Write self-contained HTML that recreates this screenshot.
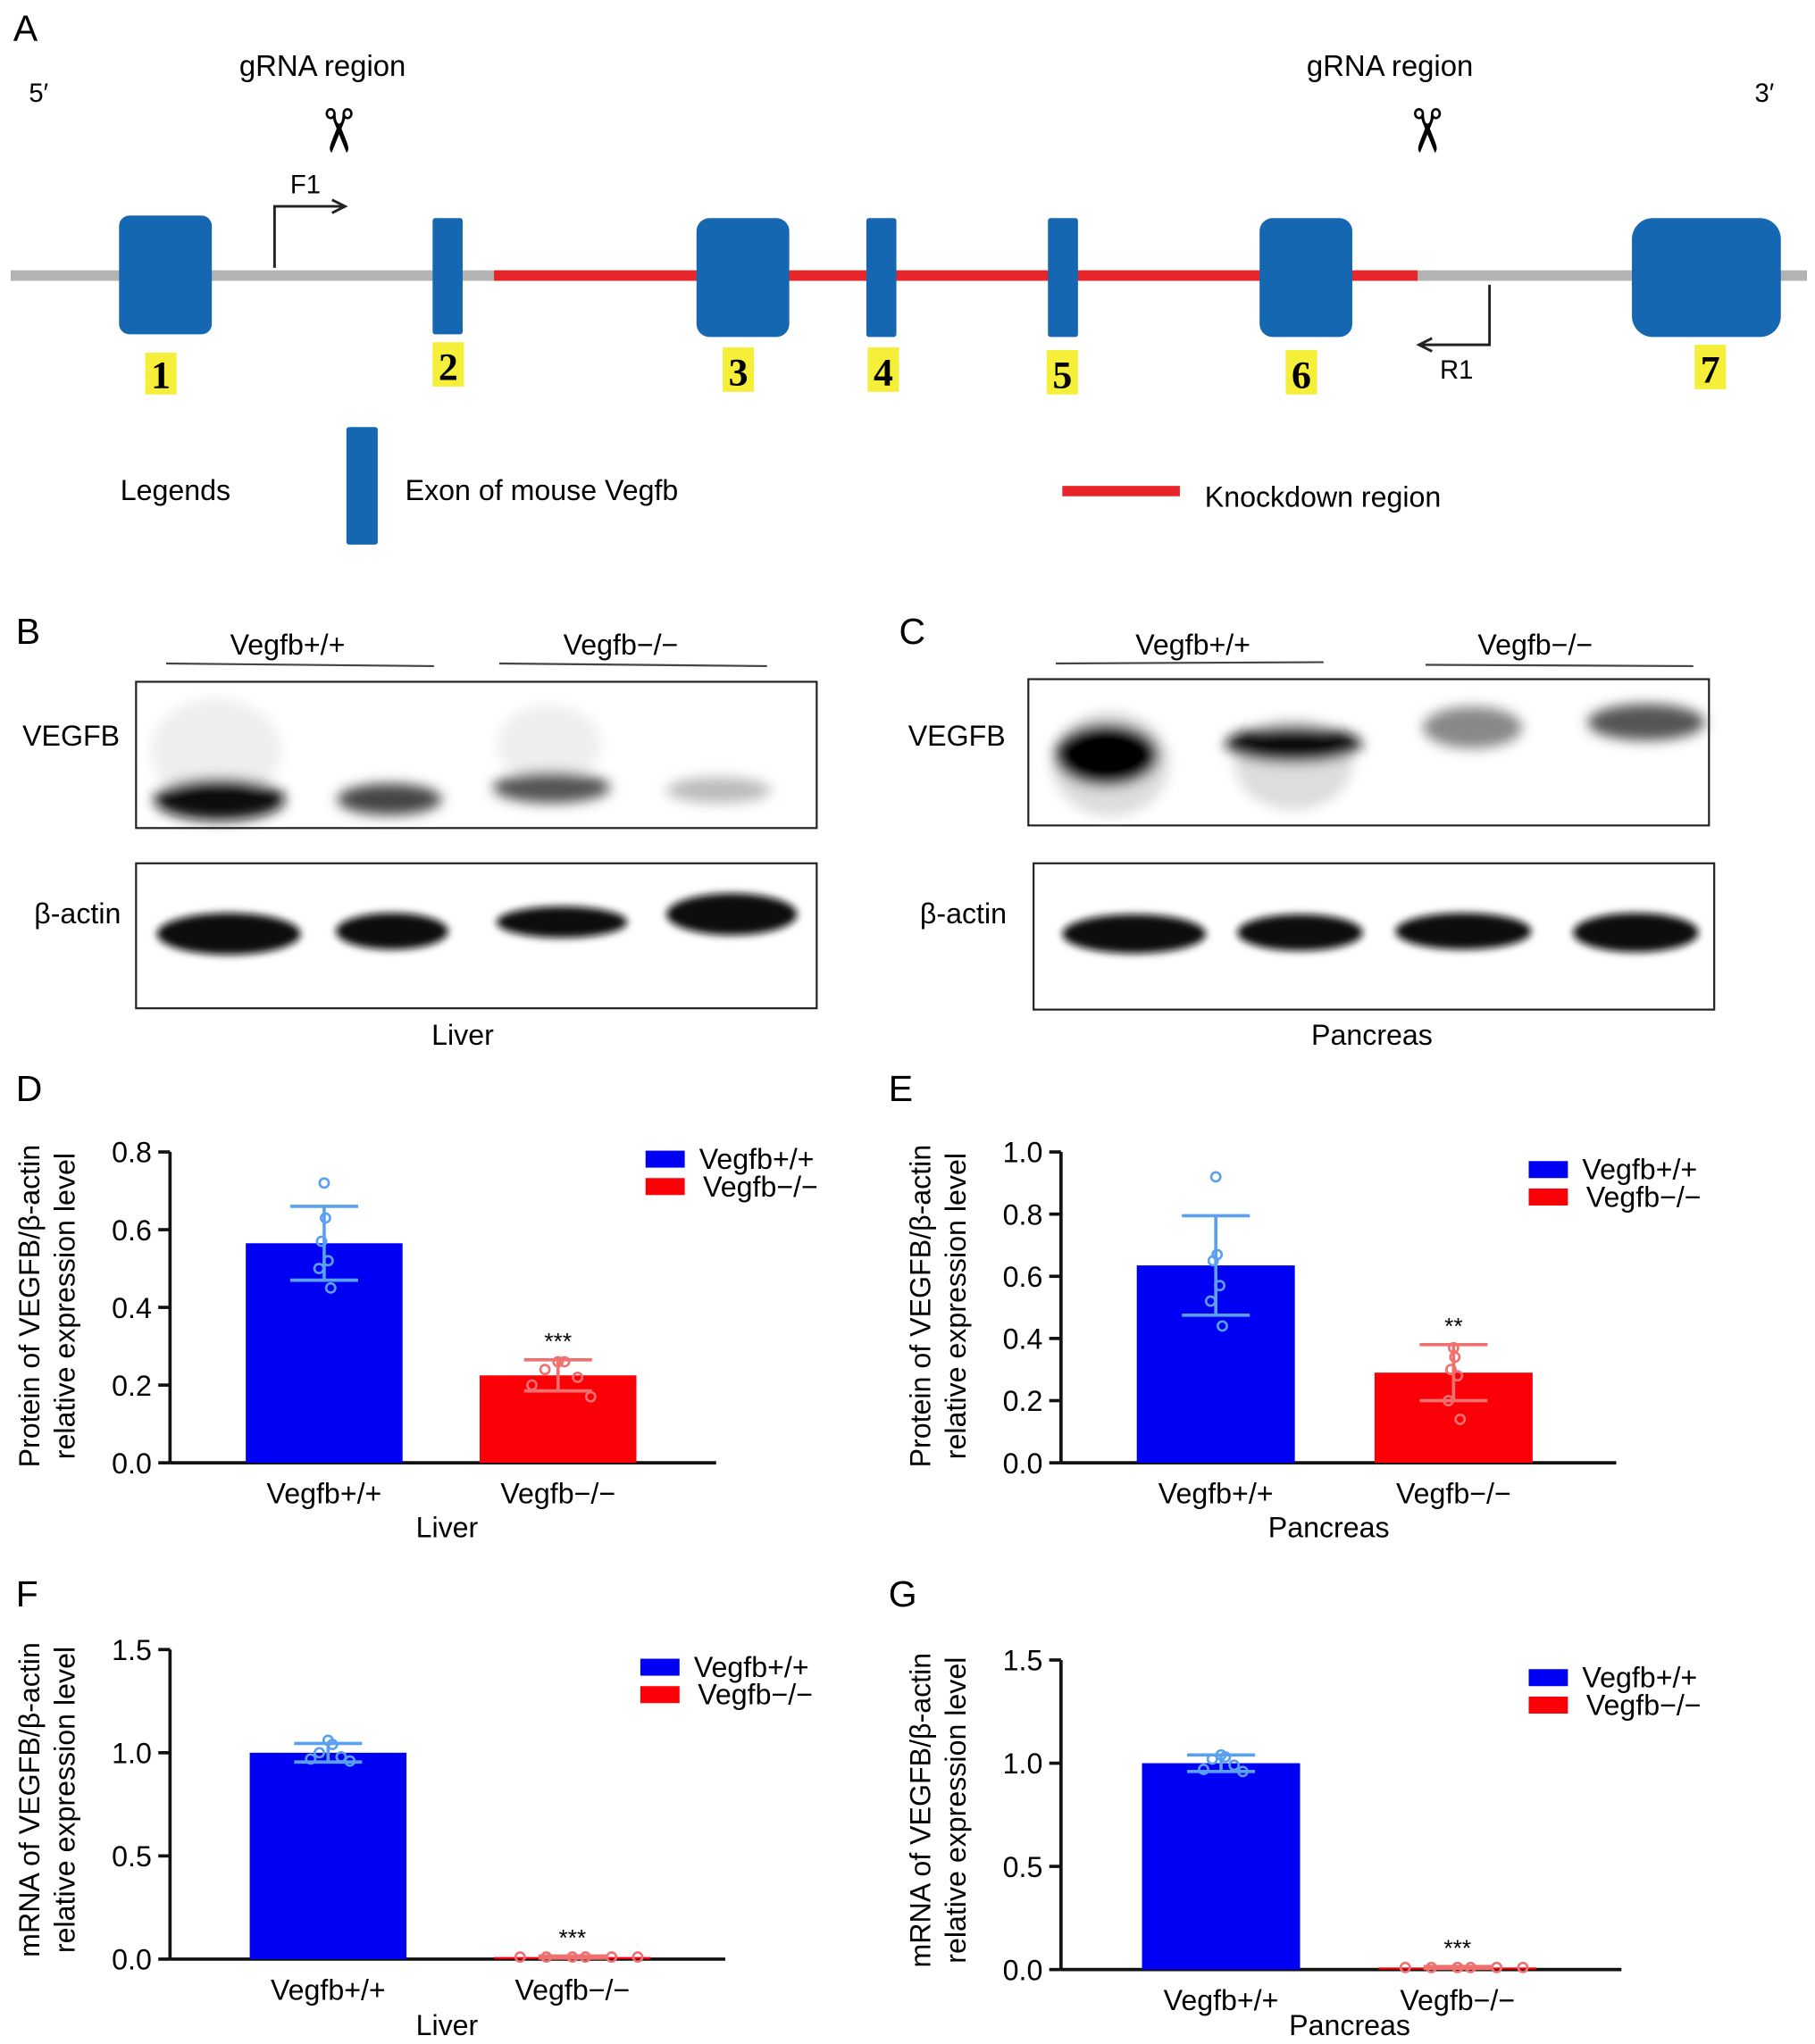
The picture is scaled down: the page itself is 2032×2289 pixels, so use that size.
<!DOCTYPE html>
<html><head><meta charset="utf-8">
<style>
html,body{margin:0;padding:0;background:#fff;}
svg{display:block;font-family:"Liberation Sans",Arial,sans-serif;}
</style></head>
<body>
<svg id="fig" width="2032" height="2289" viewBox="0 0 1389 1565" xmlns="http://www.w3.org/2000/svg">
<defs>
<filter id="blur" x="-50%" y="-50%" width="200%" height="200%"><feGaussianBlur stdDeviation="5"/></filter>
<filter id="blur2" x="-50%" y="-50%" width="200%" height="200%"><feGaussianBlur stdDeviation="3"/></filter>
</defs>
<!-- Panel A -->
<g>
<text x="10" y="31" font-size="28">A</text>
<text x="22" y="78" font-size="20">5′</text>
<text x="1343" y="78" font-size="20">3′</text>
<text x="183" y="58" font-size="22.5">gRNA region</text>
<text x="1000" y="58" font-size="22.5">gRNA region</text>
<text transform="translate(258,100) rotate(90)" font-size="46" text-anchor="middle" dominant-baseline="central">✂</text>
<text transform="translate(1091,100) rotate(90)" font-size="46" text-anchor="middle" dominant-baseline="central">✂</text>
<line x1="8" y1="211" x2="1383" y2="211" stroke="#b3b3b3" stroke-width="8"/>
<line x1="378" y1="211" x2="1085" y2="211" stroke="#e8262a" stroke-width="8"/>
<g fill="#1667b2">
<rect x="91" y="165" width="71" height="91" rx="8"/>
<rect x="331" y="167" width="23" height="89" rx="2"/>
<rect x="533" y="167" width="71" height="91" rx="10"/>
<rect x="663" y="167" width="23" height="91" rx="2"/>
<rect x="802" y="167" width="23" height="91" rx="2"/>
<rect x="964" y="167" width="71" height="91" rx="10"/>
<rect x="1249" y="167" width="114" height="91" rx="16"/>
</g>
<g font-family="Liberation Serif,serif" font-weight="bold" font-size="30" text-anchor="middle">
<rect x="111" y="270" width="24" height="32" fill="#f5ef3a"/><text x="123" y="297">1</text>
<rect x="331" y="262" width="24" height="34" fill="#f5ef3a"/><text x="343" y="291">2</text>
<rect x="553" y="266" width="24" height="34" fill="#f5ef3a"/><text x="565" y="295">3</text>
<rect x="664" y="266" width="24" height="34" fill="#f5ef3a"/><text x="676" y="295">4</text>
<rect x="801" y="268" width="24" height="34" fill="#f5ef3a"/><text x="813" y="297">5</text>
<rect x="984" y="268" width="24" height="34" fill="#f5ef3a"/><text x="996" y="297">6</text>
<rect x="1297" y="264" width="24" height="34" fill="#f5ef3a"/><text x="1309" y="293">7</text>
</g>
<path d="M210,205 V158 H262 M254,153 L264,158 L254,163" fill="none" stroke="#222" stroke-width="2"/>
<text x="222" y="148" font-size="20">F1</text>
<path d="M1140,218 V264 H1088 M1096,259 L1086,264 L1096,269" fill="none" stroke="#222" stroke-width="2"/>
<text x="1102" y="290" font-size="20">R1</text>
<text x="92" y="383" font-size="22">Legends</text>
<rect x="265" y="327" width="24" height="90" rx="2" fill="#1667b2"/>
<text x="310" y="383" font-size="22">Exon of mouse Vegfb</text>
<line x1="813" y1="376" x2="903" y2="376" stroke="#e8262a" stroke-width="8"/>
<text x="922" y="388" font-size="22">Knockdown region</text>
</g>
<!-- Panel B -->
<g>
<text x="12" y="493" font-size="28">B</text>
<text x="220" y="501" font-size="22" text-anchor="middle">Vegfb+/+</text>
<line x1="127" y1="508" x2="332" y2="510" stroke="#444" stroke-width="1.5"/>
<text x="475" y="501" font-size="22" text-anchor="middle">Vegfb−/−</text>
<line x1="382" y1="508" x2="587" y2="510" stroke="#444" stroke-width="1.5"/>
<text x="17" y="571" font-size="22">VEGFB</text>
<text x="26" y="707" font-size="22">β-actin</text>
<rect x="104" y="522" width="521" height="112" fill="#fff" stroke="#222" stroke-width="1.5"/>
<g filter="url(#blur)">
<ellipse cx="165" cy="575" rx="50" ry="40" fill="#eee"/>
<ellipse cx="420" cy="570" rx="40" ry="30" fill="#eee"/>
<ellipse cx="168" cy="612" rx="50" ry="16" fill="#111"/>
<ellipse cx="298" cy="612" rx="40" ry="12" fill="#444"/>
<ellipse cx="422" cy="603" rx="45" ry="12" fill="#555"/>
<ellipse cx="550" cy="605" rx="40" ry="10" fill="#bbb"/>
</g>
<rect x="104" y="661" width="521" height="111" fill="#fff" stroke="#222" stroke-width="1.5"/>
<g filter="url(#blur2)">
<ellipse cx="175" cy="715" rx="55" ry="16" fill="#111"/>
<ellipse cx="300" cy="713" rx="43" ry="14" fill="#111"/>
<ellipse cx="430" cy="706" rx="50" ry="12" fill="#111"/>
<ellipse cx="560" cy="700" rx="50" ry="16" fill="#111"/>
</g>
<text x="354" y="800" font-size="22" text-anchor="middle">Liver</text>
</g>
<!-- Panel C -->
<g>
<text x="688" y="493" font-size="28">C</text>
<text x="913" y="501" font-size="22" text-anchor="middle">Vegfb+/+</text>
<line x1="808" y1="508" x2="1013" y2="507" stroke="#444" stroke-width="1.5"/>
<text x="1175" y="501" font-size="22" text-anchor="middle">Vegfb−/−</text>
<line x1="1091" y1="509" x2="1296" y2="510" stroke="#444" stroke-width="1.5"/>
<text x="695" y="571" font-size="22">VEGFB</text>
<text x="704" y="707" font-size="22">β-actin</text>
<rect x="787" y="520" width="521" height="112" fill="#fff" stroke="#222" stroke-width="1.5"/>
<g filter="url(#blur)">
<ellipse cx="850" cy="585" rx="45" ry="40" fill="#ddd"/>
<ellipse cx="990" cy="585" rx="45" ry="35" fill="#ddd"/>
<ellipse cx="847" cy="578" rx="40" ry="24" fill="#000"/>
<ellipse cx="990" cy="570" rx="52" ry="14" fill="#111"/>
<ellipse cx="1127" cy="557" rx="38" ry="16" fill="#888"/>
<ellipse cx="1260" cy="553" rx="45" ry="14" fill="#555"/>
</g>
<rect x="791" y="661" width="521" height="112" fill="#fff" stroke="#222" stroke-width="1.5"/>
<g filter="url(#blur2)">
<ellipse cx="868" cy="715" rx="55" ry="15" fill="#111"/>
<ellipse cx="995" cy="714" rx="48" ry="14" fill="#111"/>
<ellipse cx="1120" cy="713" rx="52" ry="14" fill="#111"/>
<ellipse cx="1252" cy="714" rx="48" ry="15" fill="#111"/>
</g>
<text x="1050" y="800" font-size="22" text-anchor="middle">Pancreas</text>
</g>
<g id="charts"></g>
</svg>
<script>
// Chart data
const groups = ["Vegfb+/+", "Vegfb−/−"];
const dMeans = [0.565, 0.225];
const dSD = [0.095, 0.04];
const dPointsWT = [0.72, 0.63, 0.57, 0.52, 0.50, 0.45];
const dPointsKO = [0.26, 0.26, 0.24, 0.22, 0.20, 0.17];
const dTicks = [0.0, 0.2, 0.4, 0.6, 0.8];
const eMeans = [0.635, 0.29];
const eSD = [0.16, 0.09];
const ePointsWT = [0.92, 0.67, 0.65, 0.57, 0.52, 0.44];
const ePointsKO = [0.37, 0.34, 0.30, 0.28, 0.20, 0.14];
const eTicks = [0.0, 0.2, 0.4, 0.6, 0.8, 1.0];
const fMeans = [1.0, 0.01];
const fSD = [0.045, 0.005];
const fPointsWT = [1.06, 1.04, 1.0, 0.98, 0.97, 0.96];
const fPointsKO = [0.01, 0.01, 0.01, 0.01, 0.01, 0.01];
const fTicks = [0.0, 0.5, 1.0, 1.5];
const gMeans = [1.0, 0.01];
const gSD = [0.04, 0.005];
const gPointsWT = [1.04, 1.03, 1.02, 0.99, 0.97, 0.96];
const gPointsKO = [0.01, 0.01, 0.01, 0.01, 0.01, 0.01];
const gTicks = [0.0, 0.5, 1.0, 1.5];
const sigLabels = ["***", "**", "***", "***"];

const NS = "http://www.w3.org/2000/svg";
const root = document.getElementById("charts");
function mk(tag, attrs, parent, txt) {
  const e = document.createElementNS(NS, tag);
  for (const k in attrs) e.setAttribute(k, attrs[k]);
  if (txt !== undefined) e.textContent = txt;
  (parent || root).appendChild(e);
  return e;
}
function chart(cfg) {
  const g = mk("g", {});
  
  
  const yMax = cfg.ticks[cfg.ticks.length - 1];
  const y = v => cfg.y0 - (v / yMax) * (cfg.y0 - cfg.yTop);
  const pl = mk("text", {x: cfg.lx, y: cfg.ly, "font-size": 28}, g, cfg.label);
  
  
  const ya = mk("line", {x1: cfg.ax, y1: y(yMax), x2: cfg.ax, y2: cfg.y0, stroke: "#111", "stroke-width": 2.5}, g);
  
  
  const xa = mk("line", {x1: cfg.ax, y1: cfg.y0, x2: cfg.axEnd, y2: cfg.y0, stroke: "#111", "stroke-width": 2.5}, g);
  
  
  cfg.ticks.forEach(t => {
    mk("line", {x1: cfg.ax - 9, y1: y(t), x2: cfg.ax, y2: y(t), stroke: "#111", "stroke-width": 2.5}, g);
    const tl = mk("text", {x: cfg.ax - 14, y: y(t) + 8, "font-size": 22, "text-anchor": "end"}, g, t.toFixed(1));
    
    
  });
  const colors = ["#0000f5", "#fb0007"];
  const ptCol = ["#5aa0f0", "#f07070"];
  const pts = [cfg.wt, cfg.ko];
  groups.forEach((name, i) => {
    const bx = cfg.bx[i], bw = cfg.bw, cx = bx + bw / 2;
    const b = mk("rect", {x: bx, y: y(cfg.means[i]), width: bw, height: cfg.y0 - y(cfg.means[i]), fill: colors[i]}, g);
    
    
    const hi = cfg.means[i] + cfg.sd[i], lo = Math.max(0, cfg.means[i] - cfg.sd[i]);
    const eb = mk("path", {d: `M${cx},${y(hi)}V${y(lo)}M${cx-26},${y(hi)}H${cx+26}M${cx-26},${y(lo)}H${cx+26}`, stroke: ptCol[i], "stroke-width": 2.5, fill: "none"}, g);
    
    
    const spread = cfg.spread[i];
    pts[i].forEach((v, j) => {
      const px = cx + (j % 2 ? 1 : -1) * spread * (j / pts[i].length) ;
      const c = mk("circle", {cx: px, cy: y(v), r: 3.5, fill: "none", stroke: ptCol[i], "stroke-width": 1.8}, g);
      
      
    });
    const xl = mk("text", {x: cx, y: cfg.y0 + 31, "font-size": 22, "text-anchor": "middle"}, g, name);
    
    
  });
  const s = mk("text", {x: cfg.bx[1] + cfg.bw / 2, y: y(cfg.means[1] + cfg.sd[1]) - 8, "font-size": 18, "text-anchor": "middle"}, g, cfg.sig);
  
  
  const xt = mk("text", {x: cfg.xtx, y: cfg.xty, "font-size": 22, "text-anchor": "middle"}, g, cfg.xtitle);
  
  
  const yt = mk("text", {transform: `translate(${cfg.ytx},${cfg.yty}) rotate(-90)`, "font-size": 22, "text-anchor": "middle"}, g);
  
  
  mk("tspan", {x: 0, dy: 0}, yt, cfg.ytitle);
  mk("tspan", {x: 0, dy: 27}, yt, "relative expression level");
  groups.forEach((name, i) => {
    const sw = mk("rect", {x: cfg.legx, y: cfg.legy + i * 21 - 7, width: 30, height: 13, fill: colors[i]}, g);
    
    
    const lt = mk("text", {x: cfg.legx + 41 + i * 3, y: cfg.legy + i * 21 + 7, "font-size": 22}, g, name);
    
    
  });
}
chart({name: "chart-d-liver-protein", label: "D", lx: 12, ly: 843, ax: 130, axEnd: 548, y0: 1120, yTop: 882, ticks: dTicks,
  means: dMeans, sd: dSD, wt: dPointsWT, ko: dPointsKO, bx: [188, 367], bw: 120, spread: [6, 30], sig: sigLabels[0],
  xtitle: "Liver", xtx: 342, xty: 1177, ytitle: "Protein of VEGFB/β-actin", ytx: 30, yty: 1000, legx: 494, legy: 888});
chart({name: "chart-e-pancreas-protein", label: "E", lx: 680, ly: 843, ax: 812, axEnd: 1237, y0: 1120, yTop: 882, ticks: eTicks,
  means: eMeans, sd: eSD, wt: ePointsWT, ko: ePointsKO, bx: [870, 1052], bw: 121, spread: [6, 6], sig: sigLabels[1],
  xtitle: "Pancreas", xtx: 1017, xty: 1177, ytitle: "Protein of VEGFB/β-actin", ytx: 712, yty: 1000, legx: 1170, legy: 896});
chart({name: "chart-f-liver-mrna", label: "F", lx: 12, ly: 1230, ax: 130, axEnd: 555, y0: 1500, yTop: 1263, ticks: fTicks,
  means: fMeans, sd: fSD, wt: fPointsWT, ko: fPointsKO, bx: [191, 378], bw: 120, spread: [20, 60], sig: sigLabels[2],
  xtitle: "Liver", xtx: 342, xty: 1558, ytitle: "mRNA of VEGFB/β-actin", ytx: 30, yty: 1378, legx: 490, legy: 1277});
chart({name: "chart-g-pancreas-mrna", label: "G", lx: 680, ly: 1230, ax: 812, axEnd: 1241, y0: 1508, yTop: 1271, ticks: gTicks,
  means: gMeans, sd: gSD, wt: gPointsWT, ko: gPointsKO, bx: [874, 1055], bw: 121, spread: [20, 60], sig: sigLabels[3],
  xtitle: "Pancreas", xtx: 1033, xty: 1558, ytitle: "mRNA of VEGFB/β-actin", ytx: 712, yty: 1386, legx: 1170, legy: 1285});
</script>
</body></html>
